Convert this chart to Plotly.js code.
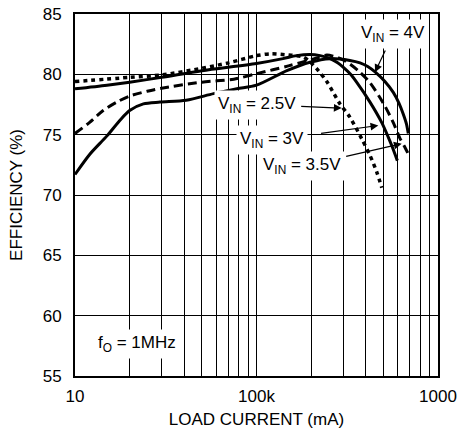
<!DOCTYPE html>
<html>
<head>
<meta charset="utf-8">
<script src="https://cdn.plot.ly/plotly-3.0.1.min.js"></script>
<style>html,body{margin:0;padding:0;background:#fff;}#chart{width:463px;height:436px;}</style>
</head>
<body>
<div id="chart"></div>
<script>
// ---- data ----
const vin25_x = [10, 20, 30, 50, 70, 100, 120, 150, 180, 195, 215, 244, 288, 327, 380, 422, 460, 490];
const vin25_y = [79.4, 79.75, 79.95, 80.5, 80.95, 81.55, 81.7, 81.6, 81.45, 81.1, 80.45, 79.4, 77.56, 76.45, 74.66, 73.28, 71.9, 70.6];

const vin3_x = [10, 15, 20, 30, 50, 100, 140, 166, 197, 224, 254, 280, 300, 330, 356, 422, 490, 532, 556, 597];
const vin3_y = [78.8, 79.1, 79.35, 79.75, 80.3, 80.9, 81.3, 81.55, 81.65, 81.55, 81.3, 80.95, 80.6, 80.0, 79.35, 77.7, 76.0, 74.8, 74.1, 72.85];

const vin35_x = [10, 12, 14.3, 17, 20, 25, 30, 50, 75, 100, 150, 215, 244, 265, 300, 327, 370, 422, 500, 567, 617, 660, 686];
const vin35_y = [75.1, 76.0, 77.0, 77.7, 78.2, 78.6, 78.85, 79.35, 79.6, 80.05, 80.7, 81.35, 81.6, 81.5, 81.2, 80.85, 80.2, 79.3, 77.6, 76.0, 74.7, 73.9, 73.4];

const vin4_x = [10, 12.1, 15, 17.7, 20, 23.8, 29.4, 41, 58, 78, 100, 147, 197, 254, 327, 372, 410, 450, 510, 567, 610, 644, 670, 686];
const vin4_y = [71.7, 73.4, 74.9, 76.2, 77.0, 77.55, 77.7, 77.85, 78.4, 78.8, 79.1, 80.3, 81.0, 81.3, 81.15, 80.95, 80.65, 80.2, 79.4, 78.5, 77.6, 76.7, 75.9, 75.1];

const xTickVals = [10, 100, 1000];
const xTickText = ['10', '100k', '1000'];
const xMinorVals = [20,30,40,50,60,70,80,90,200,300,400,500,600,700,800,900];
const yTickVals = [55,60,65,70,75,80,85];

// ---- font choice ----
function hasFont(name){
  const c = document.createElement('canvas').getContext('2d');
  const s = 'EFFICIENCY 0123456789 LOAD';
  c.font = '20px monospace'; const a = c.measureText(s).width;
  c.font = "20px '" + name + "', monospace"; const b = c.measureText(s).width;
  return Math.abs(a-b) > 0.5;
}
const narrow = hasFont('Liberation Sans Narrow');
const FAM = narrow ? "'Liberation Sans Narrow', 'Liberation Sans', Arial, sans-serif" : "'Liberation Sans', Arial, sans-serif";
const FS = narrow ? 20 : 17;

const L = Math.log10;

function tr(x, y, dash, w){
  return {x: x, y: y, type: 'scatter', mode: 'lines',
    line: {color: '#000', width: w, dash: dash, shape: 'spline', smoothing: 0.8},
    hoverinfo: 'skip'};
}
const data = [
  tr(vin25_x, vin25_y, '4px,4px', 3.5),
  tr(vin3_x, vin3_y, 'solid', 3),
  tr(vin35_x, vin35_y, '9px,5px', 3),
  tr(vin4_x, vin4_y, 'solid', 3)
];

function lab(text, x, y){
  return {text: text, x: L(x), y: y, xref: 'x', yref: 'y', showarrow: false,
    bgcolor: '#fff', borderpad: 3, font: {family: FAM, size: FS, color: '#000'}};
}
// label with arrow: (hx,hy) = arrow head in data units, (ax,ay) = label centre offset in px
function labArr(text, hx, hy, ax, ay, gap){
  return {text: text, x: L(hx), y: hy, xref: 'x', yref: 'y', showarrow: true,
    ax: ax, ay: ay, arrowhead: 2, arrowsize: 1.3, arrowwidth: 1.2, arrowcolor: '#000',
    standoff: 0, startstandoff: gap,
    bgcolor: '#fff', borderpad: 3, font: {family: FAM, size: FS, color: '#000'}};
}

const layout = {
  width: 463, height: 436,
  margin: {l: 75, r: 25, t: 14, b: 60, pad: 0},
  paper_bgcolor: '#fff', plot_bgcolor: '#fff',
  showlegend: false,
  font: {family: FAM, size: FS, color: '#000'},
  xaxis: {
    type: 'log', range: [1, 3],
    tickvals: xTickVals, ticktext: xTickText,
    showgrid: true, gridcolor: '#000', gridwidth: 1,
    minor: {tickvals: xMinorVals, showgrid: true, gridcolor: '#000', gridwidth: 1, ticks: ''},
    showline: true, linecolor: '#000', linewidth: 2, mirror: true,
    ticks: '', zeroline: false, ticklabelstandoff: 4,
    tickfont: {family: FAM, size: FS, color: '#000'},
    title: {text: 'LOAD CURRENT (mA)', font: {family: FAM, size: FS, color: '#000'}, standoff: 8}
  },
  yaxis: {
    range: [55, 85], tickvals: yTickVals,
    showgrid: true, gridcolor: '#000', gridwidth: 1,
    showline: true, linecolor: '#000', linewidth: 2, mirror: true,
    ticks: '', zeroline: false, ticklabelstandoff: 8,
    tickfont: {family: FAM, size: FS, color: '#000'},
    title: {text: 'EFFICIENCY (%)', font: {family: FAM, size: FS, color: '#000'}, standoff: 16}
  },
  annotations: [
    labArr('V<sub>IN</sub> = 4V', 449.8, 80.18, 18, -38, 2),
    labArr('V<sub>IN</sub> = 2.5V', 294.7, 77.2, -85, -3.5, 2),
    labArr('V<sub>IN</sub> = 3V', 469, 75.76, -106.6, 14.5, 14),
    labArr('V<sub>IN</sub> = 3.5V', 631, 74.25, -100, 22.7, 2),
    lab('f<sub>O</sub> = 1MHz', 21.96, 57.66)
  ]
};

Plotly.newPlot('chart', data, layout, {staticPlot: true, displayModeBar: false}).then(function(gd){
  // drop empty placeholder text nodes Plotly leaves in the SVG
  gd.querySelectorAll('svg text').forEach(function(t){
    if (!t.textContent || !t.textContent.trim()) t.remove();
  });
});
</script>
</body>
</html>
